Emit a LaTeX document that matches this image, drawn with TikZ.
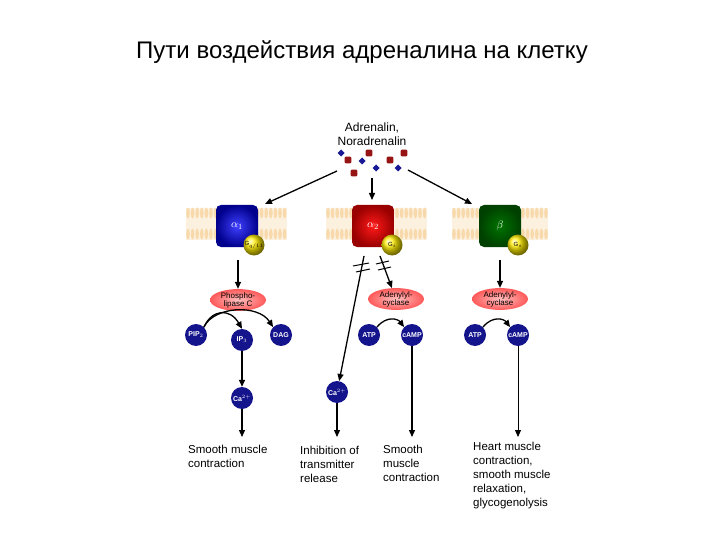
\documentclass[tikz,border=0pt]{standalone}
\usepackage{fontspec}
\setmainfont{Liberation Sans}
\usetikzlibrary{arrows.meta,shapes.geometric}

\definecolor{lipid}{RGB}{247,212,160}
\definecolor{molblue}{RGB}{20,20,140}
\definecolor{dotred}{RGB}{150,20,20}
\definecolor{dotblue}{RGB}{25,25,150}

\begin{document}
\begin{tikzpicture}[x=1pt,y=-1pt,
  arr/.style={-{Triangle[length=7pt,width=6pt]},line width=1.3pt},
  rec/.style={rounded corners=5pt,minimum size=42pt,inner sep=0pt,text=white,font=\fontsize{11}{11}\selectfont},
  gprot/.style={circle,ball color=yellow!85!orange,minimum size=21pt,inner sep=0pt,font=\fontsize{6}{6}\selectfont},
  enz/.style={ellipse,inner color=red!25,outer color=red!65,minimum width=56pt,minimum height=20pt,inner sep=0pt,align=center,font=\fontsize{8}{8}\selectfont},
  mol/.style={circle,fill=molblue,minimum size=22pt,inner sep=0pt,text=white,font=\bfseries\fontsize{7}{7}\selectfont},
  effect/.style={anchor=north west,align=left,inner sep=0pt,font=\fontsize{11.5}{14}\selectfont}]
\useasboundingbox (0,0) rectangle (720,540);

\node (title) at (362,52) {\fontsize{24}{24}\selectfont Пути воздействия адреналина на клетку};
\node (adr) at (372,134) [align=center,font=\fontsize{12}{14}\selectfont] {Adrenalin,\\Noradrenalin};

\foreach \x/\y in {341/153,362/161,376/168,398/168}
  \fill[dotblue] (\x,\y) +(0,-3.5) -- +(3.5,0) -- +(0,3.5) -- +(-3.5,0) -- cycle;
\foreach \x/\y in {348/160,369/153,390/160,404/153,354/173}
  \fill[dotred,rounded corners=1pt] (\x-3.3,\y-3.3) rectangle (\x+3.3,\y+3.3);

\foreach \a/\n in {188/21,328/21,454/20} {
  \fill[lipid!35] (\a-2,208) rectangle (\a+4.6*\n+2,240);
  \foreach \i in {0,...,\n} {
    \pgfmathsetmacro\x{\a+4.6*\i}
    \fill[lipid,opacity=.8] (\x,213) ellipse (1.8 and 5.5);
    \fill[lipid,opacity=.8] (\x,234) ellipse (1.8 and 5.5);
  }
}

\node (r1) at (237,226) [rec,inner color=blue!75!white,outer color=blue!55!black] {$\alpha_1$};
\node (r2) at (373,226) [rec,inner color=red!90!white,outer color=red!60!black] {$\alpha_2$};
\node (r3) at (500,226) [rec,inner color=green!45!black,outer color=green!25!black] {$\beta$};
\node (g1) at (254,245) [gprot] {G$_{q/11}$};
\node (g2) at (392,245) [gprot] {G$_{i}$};
\node (g3) at (518,245) [gprot] {G$_{s}$};

\coordinate (s1) at (337,171);
\coordinate (s2) at (372,178);
\coordinate (s3) at (408,170);
\coordinate (t1) at (265,204);
\coordinate (t2) at (372,200);
\coordinate (t3) at (472,204);
\draw [arr] (s1) -- (t1);
\draw [arr] (s2) -- (t2);
\draw [arr] (s3) -- (t3);

\node (plc) at (238,300) [enz] {Phospho-\\lipase C};
\node (ac1) at (396,299) [enz] {Adenylyl-\\cyclase};
\node (ac2) at (500,299) [enz] {Adenylyl-\\cyclase};

\node (pip) at (196,335) [mol] {PIP$_2$};
\node (ip) at (242,340) [mol] {IP$_3$};
\node (dag) at (281,335) [mol] {DAG};
\node (ca1) at (242,398) [mol] {Ca$^{2+}$};
\node (atp1) at (369,335) [mol] {ATP};
\node (camp1) at (412,335) [mol] {cAMP};
\node (ca2) at (337,392) [mol] {Ca$^{2+}$};
\node (atp2) at (475,335) [mol] {ATP};
\node (camp2) at (518,335) [mol] {cAMP};

\coordinate (d1) at (238,260);
\coordinate (d3) at (500,260);
\coordinate (m1) at (364,256);
\coordinate (m2) at (380,256);
\draw [arr] (d1) -- (plc);
\draw [arr] (d3) -- (ac2);
\draw [arr] (m1) -- (ca2);
\draw [arr] (m2) -- (ac1);
\draw [line width=1pt] (353,266) -- (369,263) (356,272) -- (370,269);
\draw [line width=1pt] (376,264) -- (389,261) (378,270) -- (391,267);

\draw [arr] (pip.north east) .. controls (212,309) and (230,308) .. (ip.north);
\draw [arr] (pip.north east) .. controls (214,306) and (258,304) .. (dag.north west);
\draw [arr] (atp1.north east) .. controls +(10,-12) and +(-6,-8) .. (camp1.north west);
\draw [arr] (atp2.north east) .. controls +(10,-12) and +(-6,-8) .. (camp2.north west);

\draw [arr] (ip) -- (ca1);
\coordinate (e1) at (242,437);
\coordinate (e2) at (337,437);
\coordinate (e3) at (412,437);
\coordinate (e4) at (518,437);
\draw [arr] (ca1) -- (e1);
\draw [arr] (ca2) -- (e2);
\draw [arr] (camp1) -- (e3);
\draw [arr,line width=1pt] (camp2) -- (e4);

\node (o1) at (188,445) [effect] {Smooth muscle\\contraction};
\node (o2) at (300,446) [effect] {Inhibition of\\transmitter\\release};
\node (o3) at (383,445) [effect] {Smooth\\muscle\\contraction};
\node (o4) at (473,442) [effect] {Heart muscle\\contraction,\\smooth muscle\\relaxation,\\glycogenolysis};
\end{tikzpicture}
\end{document}
